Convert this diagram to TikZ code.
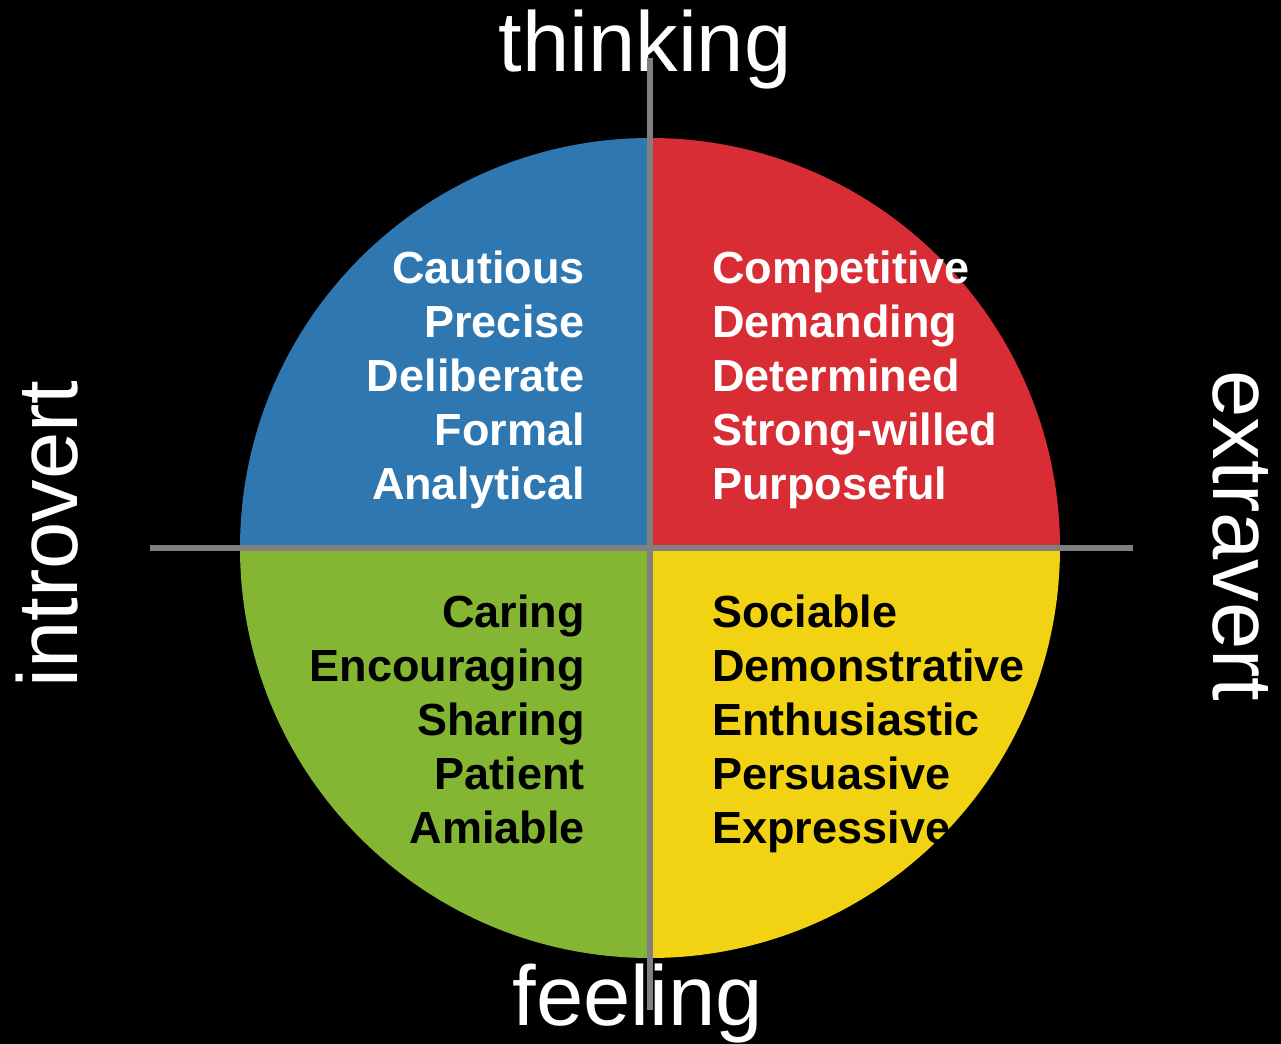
\documentclass[tikz,border=0pt]{standalone}
\usepackage{fontspec}
\setmainfont{Liberation Sans}
\usepackage{xcolor}
\usepackage{tikz}
\definecolor{coolblue}{HTML}{2E77B0}
\definecolor{hotred}{HTML}{D92D35}
\definecolor{calmgreen}{HTML}{84B634}
\definecolor{sunyellow}{HTML}{F2D314}
\definecolor{axisgray}{HTML}{808080}
\tikzset{
  traits/.style={inner sep=0pt,font=\fontsize{22.5}{27}\selectfont\bfseries},
  pole/.style={inner sep=0pt,white,font=\fontsize{42.5}{50}\selectfont},
  axis/.style={draw=axisgray,line width=3pt}
}

\begin{document}
\begin{tikzpicture}[x=0.5pt,y=0.5pt]
\useasboundingbox[fill=black] (-650,-496) rectangle (631,548);

% Quadrants of the disc
\fill [coolblue] (0,0) -- (-410,0) arc[start angle=180,end angle=90,radius=410] -- cycle;
\fill [hotred] (0,0) -- (0,410) arc[start angle=90,end angle=0,radius=410] -- cycle;
\fill [calmgreen] (0,0) -- (0,-410) arc[start angle=270,end angle=180,radius=410] -- cycle;
\fill [sunyellow] (0,0) -- (410,0) arc[start angle=0,end angle=-90,radius=410] -- cycle;

% Traits
\node (analytic) [traits,white,align=right,anchor=east] at (-65,168)
  {Cautious\\Precise\\Deliberate\\Formal\\Analytical};
\node (driver) [traits,white,align=left,anchor=west] at (62,168)
  {Competitive\\Demanding\\Determined\\Strong-willed\\Purposeful};
\node (amiable) [traits,black,align=right,anchor=east] at (-65,-171)
  {Caring\\Encouraging\\Sharing\\Patient\\Amiable};
\node (expressive) [traits,black,align=left,anchor=west] at (62,-176)
  {Sociable\\Demonstrative\\Enthusiastic\\Persuasive\\Expressive};

% Poles
\node (thinking) [pole,anchor=base] at (-5,476) {thinking};
\node (feeling) [pole,anchor=base] at (-12,-477) {feeling};
\node (introvert) [pole,anchor=base,rotate=90] at (-572,14) {introvert};
\node (extravert) [pole,anchor=base,rotate=-90] at (563,12) {extravert};

% Axes
\coordinate (top) at (0,490);
\coordinate (bottom) at (0,-462);
\coordinate (left) at (-500,0);
\coordinate (right) at (483,0);
\draw [axis] (top) -- (bottom);
\draw [axis] (left) -- (right);
\end{tikzpicture}
\end{document}
